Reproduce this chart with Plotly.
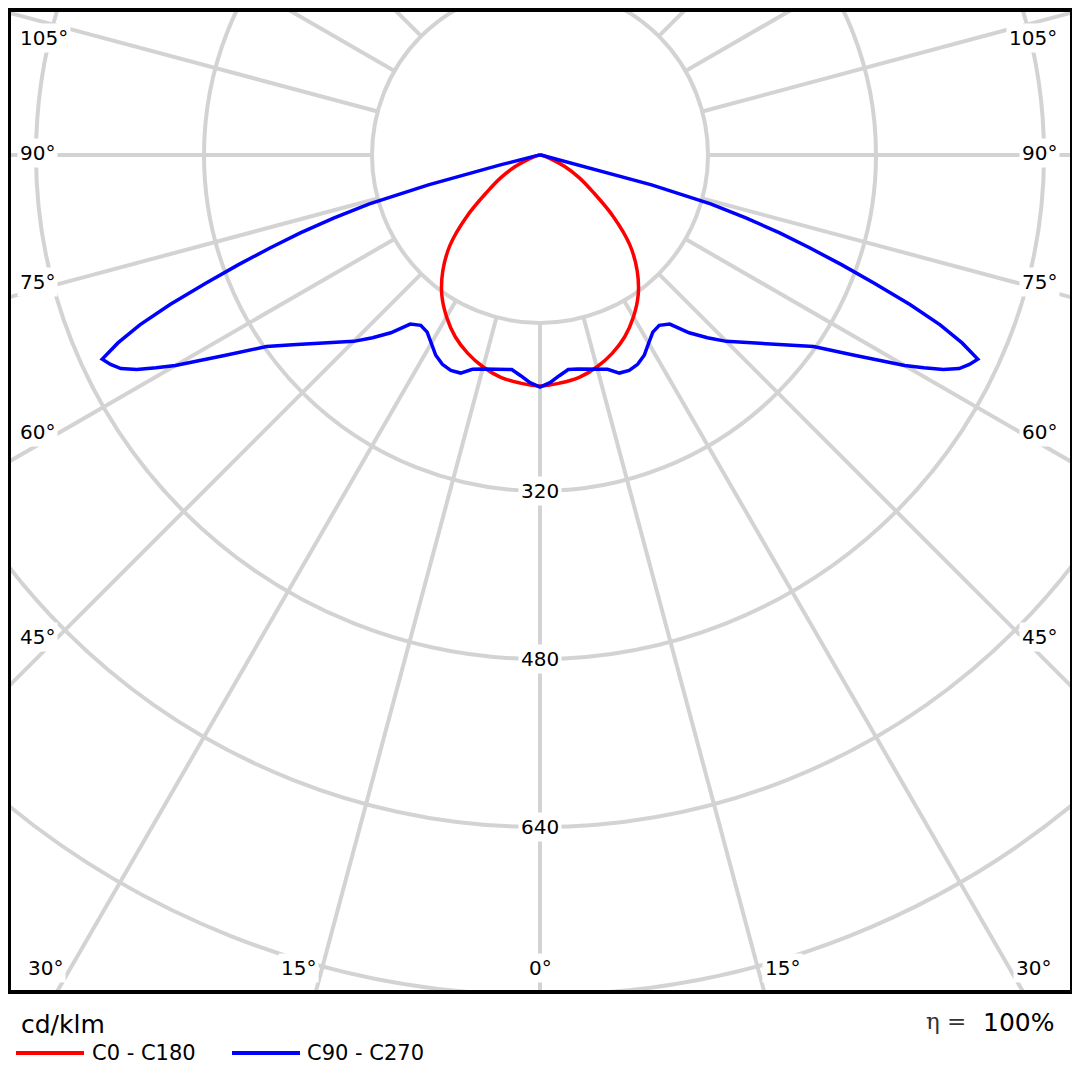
import numpy as np
import plotly.graph_objects as go

# luminous intensity, cd/klm, vs. gamma angle (deg from nadir)
gamma_c0 = [0, 5, 10, 15, 20, 25, 30, 35, 40, 45, 50, 55, 60, 65, 70, 75, 80, 85, 90]
int_c0 = [220, 218, 215, 209, 201, 191, 178, 163, 144, 121, 91, 62, 43, 26, 12, 5, 2, 1, 0]

gamma_c90 = [0, 2.5, 5, 7.5, 10, 12.5, 15, 17.5, 20, 22.5, 25, 27.5, 30, 32.5, 35, 37.5,
             40, 42.5, 45, 47.5, 50, 52.5, 55, 57.5, 60, 61, 62, 63, 64, 65, 66, 67, 68,
             69, 70, 71, 72, 73, 74, 75, 76, 77, 80, 85, 90]
int_c90 = [221, 217, 211, 206, 207, 209, 211, 214, 221, 222, 220, 215, 207, 200, 198, 203,
           221, 236, 251, 264, 279, 297, 318, 355, 401, 418, 435, 448, 455, 460, 440, 414, 380,
           341, 306, 272, 240, 205, 169, 110, 38, 8, 2, 1, 0]

series_names = ["C0 - C180", "C90 - C270"]
series_colors = ["#ff0000", "#0000ff"]

ring_values = [160, 320, 480, 640, 800]
ring_labels = [320, 480, 640]
spoke_angles = list(range(0, 181, 15))

left_labels = ["105°", "90°", "75°", "60°", "45°"]
bottom_labels = ["30°", "15°", "0°", "15°", "30°"]

# plot area in page pixels (page body has an 8px margin)
OFF = 8
W = 1080 - OFF
X0, X1, Y0, Y1 = 9, 1072, 10, 992
CX, CY = 540, 155          # pole position in pixels
PX_PER_CD = 168 / 160


def px(x):
    return (x - X0) / (X1 - X0)


def py(y):
    return (Y1 - y) / (Y1 - Y0)


def both_sides(gam, val):
    g = np.radians(np.array(gam, dtype=float))
    v = np.array(val, dtype=float)
    x = np.concatenate([-(v * np.sin(g))[::-1], (v * np.sin(g))[1:]])
    y = np.concatenate([-(v * np.cos(g))[::-1], -(v * np.cos(g))[1:]])
    return x, y


fig = go.Figure()

shapes_line = ["spline", "linear"]
for gam, val, name, col, shp in zip([gamma_c0, gamma_c90], [int_c0, int_c90],
                                    series_names, series_colors, shapes_line):
    x, y = both_sides(gam, val)
    fig.add_trace(go.Scatter(x=x, y=y, mode="lines", name=name,
                             line=dict(color=col, width=3.5, shape=shp), showlegend=False,
                             hoverinfo="skip"))

grid = dict(color="#d3d3d3", width=4)
shapes = []
for r in ring_values:
    shapes.append(dict(type="circle", xref="x", yref="y", x0=-r, x1=r, y0=-r, y1=r,
                       line=grid, layer="below"))
for a in spoke_angles:
    t = np.radians(a)
    for side in ([1] if a in (0, 180) else [-1, 1]):
        shapes.append(dict(type="line", xref="x", yref="y",
                           x0=side * 160 * np.sin(t), y0=-160 * np.cos(t),
                           x1=side * 1500 * np.sin(t), y1=-1500 * np.cos(t),
                           line=grid, layer="below"))

# frame
shapes.append(dict(type="rect", xref="paper", yref="paper", x0=0, x1=1, y0=0, y1=1,
                   line=dict(color="black", width=4), layer="above"))

# legend samples
legend_x = [(16, 84, 90), (232, 300, 305)]
for (a, b, _), col in zip(legend_x, series_colors):
    shapes.append(dict(type="line", xref="paper", yref="paper", x0=px(a), x1=px(b),
                       y0=py(1053), y1=py(1053), line=dict(color=col, width=4)))

font = "DejaVu Sans, Verdana, sans-serif"
ann = []
lab = dict(showarrow=False, font=dict(family=font, size=20, color="black"),
           bgcolor="white", borderpad=2, yanchor="middle")
for v in ring_labels:
    ann.append(dict(x=0, y=-v, xref="x", yref="y", text=str(v), xanchor="center", **lab))

left_y = [38, 153, 282, 432, 637]
for t, yy in zip(left_labels, left_y):
    ann.append(dict(x=px(17), y=py(yy), xref="paper", yref="paper", text=t,
                    xanchor="left", **lab))
    ann.append(dict(x=px(1060), y=py(yy), xref="paper", yref="paper", text=t,
                    xanchor="right", **lab))

bottom_x = [45, 298, 540, 782, 1033]
for t, xx in zip(bottom_labels, bottom_x):
    ann.append(dict(x=px(xx), y=py(968), xref="paper", yref="paper", text=t,
                    xanchor="center", **lab))

txt = dict(showarrow=False, xref="paper", yref="paper", yanchor="middle")
ann.append(dict(x=px(19), y=py(1024), text="cd/klm", xanchor="left",
                font=dict(family=font, size=25, color="black"), **txt))
for (_, _, tx), name in zip(legend_x, series_names):
    ann.append(dict(x=px(tx), y=py(1053), text=name, xanchor="left",
                    font=dict(family=font, size=21, color="black"), **txt))
ann.append(dict(x=px(1056), y=py(1023), text="100%", xanchor="right",
                font=dict(family=font, size=25, color="black"), **txt))
ann.append(dict(x=px(968), y=py(1021), text="η =", xanchor="right",
                font=dict(family="DejaVu Serif, serif", size=23, color="#333333"), **txt))

xr = [(X0 - CX) / PX_PER_CD, (X1 - CX) / PX_PER_CD]
yr = [(CY - Y1) / PX_PER_CD, (CY - Y0) / PX_PER_CD]

fig.update_layout(
    width=W, height=W,
    margin=dict(l=X0 - OFF, r=W - (X1 - OFF), t=Y0 - OFF, b=W - (Y1 - OFF)),
    paper_bgcolor="white", plot_bgcolor="white",
    shapes=shapes, annotations=ann,
    xaxis=dict(range=xr, showgrid=False, zeroline=False, showticklabels=False,
               showline=False, fixedrange=True),
    yaxis=dict(range=yr, showgrid=False, zeroline=False, showticklabels=False,
               showline=False, fixedrange=True),
)

fig.write_html("out.html")
